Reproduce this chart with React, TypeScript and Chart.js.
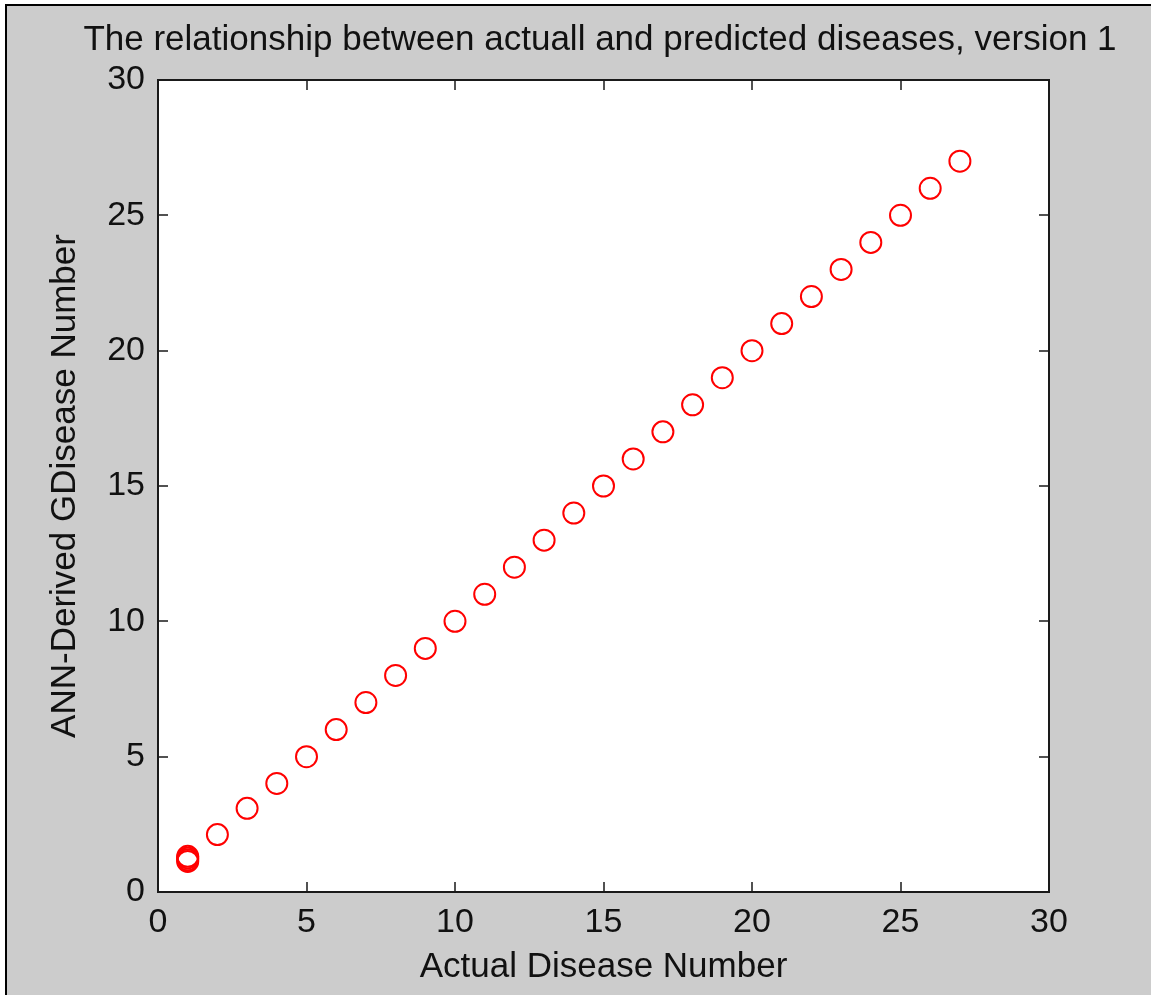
import React, { useEffect, useRef } from "react";
import { Chart, registerables } from "chart.js";

Chart.register(...registerables);

const TITLE = "The relationship between actuall and predicted diseases, version 1";
const X_LABEL = "Actual Disease Number";
const Y_LABEL = "ANN-Derived GDisease Number";

const actualDisease = [1, 1, 1, 1, 2, 3, 4, 5, 6, 7, 8, 9, 10, 11, 12, 13, 14, 15, 16, 17, 18, 19, 20, 21, 22, 23, 24, 25, 26, 27];
const predictedDisease = [1.13, 1.19, 1.26, 1.32, 2.12, 3.09, 4.01, 5, 6, 7, 8, 9, 10, 11, 12, 13, 14, 15, 16, 17, 18, 19, 20, 21, 22, 23, 24, 25, 26, 27];

const AXIS_MIN = 0;
const AXIS_MAX = 30;
const AXIS_STEP = 5;

const FONT = "'Liberation Sans', Arial, sans-serif";
const TEXT_COLOR = "#111111";

const framePlugin = {
  id: "matlabFrame",
  beforeDraw(chart: any) {
    const { ctx, width, height, chartArea } = chart;
    ctx.save();
    ctx.fillStyle = "#ffffff";
    ctx.fillRect(0, 0, width, height);
    ctx.fillStyle = "#cccccc";
    ctx.fillRect(5, 4, width - 5, height - 4);
    ctx.fillStyle = "#000000";
    ctx.fillRect(5, 4, width - 5, 2);
    ctx.fillRect(5, 4, 2, height - 4);
    ctx.fillStyle = "#ffffff";
    ctx.fillRect(chartArea.left, chartArea.top, chartArea.right - chartArea.left, chartArea.bottom - chartArea.top);
    ctx.restore();
  },
  afterDatasetsDraw(chart: any) {
    const { ctx, chartArea, scales } = chart;
    const { left, right, top, bottom } = chartArea;
    const tl = 10;
    ctx.save();
    ctx.strokeStyle = "#1a1a1a";
    ctx.lineWidth = 1.5;
    ctx.beginPath();
    scales.x.ticks.forEach((t: any) => {
      const px = Math.round(scales.x.getPixelForValue(t.value));
      ctx.moveTo(px, bottom);
      ctx.lineTo(px, bottom - tl);
      ctx.moveTo(px, top);
      ctx.lineTo(px, top + tl);
    });
    scales.y.ticks.forEach((t: any) => {
      const py = Math.round(scales.y.getPixelForValue(t.value));
      ctx.moveTo(left, py);
      ctx.lineTo(left + tl, py);
      ctx.moveTo(right, py);
      ctx.lineTo(right - tl, py);
    });
    ctx.stroke();
    ctx.lineWidth = 2;
    ctx.strokeStyle = "#1a1a1a";
    ctx.strokeRect(left, top, right - left, bottom - top);
    ctx.restore();
  },
};

export default function App() {
  const ref = useRef<HTMLCanvasElement | null>(null);

  useEffect(() => {
    document.body.style.margin = "0";
    const canvas = ref.current;
    if (!canvas) return;
    const points = actualDisease.map((x, i) => ({ x, y: predictedDisease[i] }));
    const chart = new Chart(canvas, {
      type: "scatter",
      data: {
        datasets: [
          {
            label: "predicted",
            data: points,
            pointRadius: 10.5,
            pointHoverRadius: 10.5,
            pointBorderWidth: 2,
            borderColor: "#ff0000",
            pointBorderColor: "#ff0000",
            pointBackgroundColor: "rgba(0,0,0,0)",
            backgroundColor: "rgba(0,0,0,0)",
            showLine: false,
          },
        ],
      },
      options: {
        responsive: false,
        animation: false,
        events: [],
        layout: { padding: { left: 49, right: 0, top: 0, bottom: 0 } },
        plugins: {
          legend: { display: false },
          tooltip: { enabled: false },
          title: {
            display: true,
            text: TITLE,
            color: TEXT_COLOR,
            font: { family: FONT, size: 35, weight: "normal", lineHeight: 1.2 },
            padding: { top: 19, bottom: 19 },
          },
        },
        scales: {
          x: {
            type: "linear",
            min: AXIS_MIN,
            max: AXIS_MAX,
            grid: { display: false, drawTicks: false },
            border: { display: false },
            ticks: {
              stepSize: AXIS_STEP,
              color: TEXT_COLOR,
              padding: 10,
              maxRotation: 0,
              font: { family: FONT, size: 34 },
            },
            title: {
              display: true,
              text: X_LABEL,
              color: TEXT_COLOR,
              font: { family: FONT, size: 35, lineHeight: 1.2 },
              padding: { top: 0, bottom: 7 },
            },
            afterFit(scale: any) {
              scale.height = 103;
            },
          },
          y: {
            type: "linear",
            min: AXIS_MIN,
            max: AXIS_MAX,
            grid: { display: false, drawTicks: false },
            border: { display: false },
            ticks: {
              stepSize: AXIS_STEP,
              color: TEXT_COLOR,
              padding: 13,
              font: { family: FONT, size: 34 },
            },
            title: {
              display: true,
              text: Y_LABEL,
              color: TEXT_COLOR,
              font: { family: FONT, size: 35, lineHeight: 1.2 },
              padding: { top: -5, bottom: 0 },
            },
            afterFit(scale: any) {
              scale.width = 109;
            },
          },
          yRight: {
            type: "linear",
            position: "right",
            min: AXIS_MIN,
            max: AXIS_MAX,
            grid: { display: false, drawTicks: false },
            border: { display: false },
            ticks: { display: false },
            afterFit(scale: any) {
              scale.width = 102;
            },
          },
        },
      },
      plugins: [framePlugin],
    });
    return () => chart.destroy();
  }, []);

  return (
    <div style={{ width: 1151, height: 995 }}>
      <canvas ref={ref} width={1151} height={995} style={{ display: "block", width: 1151, height: 995 }} />
    </div>
  );
}
